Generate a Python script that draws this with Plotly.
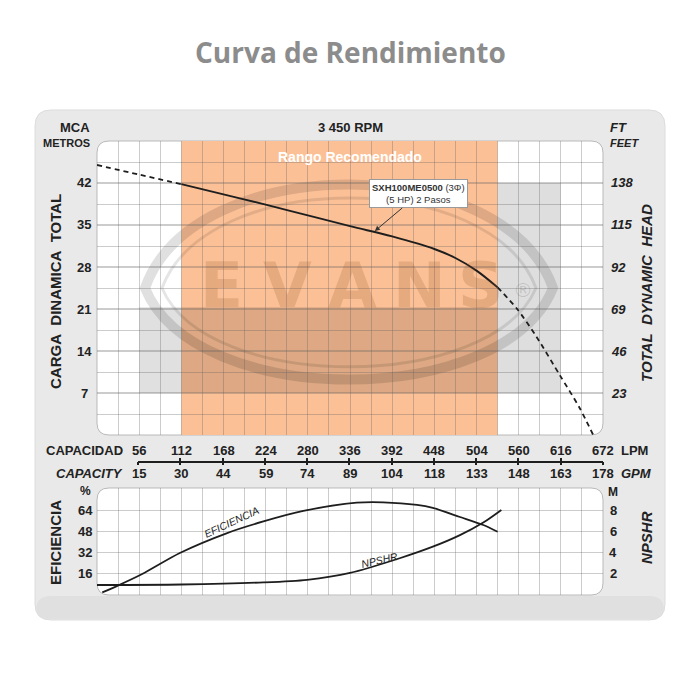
import plotly.graph_objects as go

# ---------------- data ----------------
lpm_ticks = [56, 112, 168, 224, 280, 336, 392, 448, 504, 560, 616, 672]
gpm_ticks = [15, 30, 44, 59, 74, 89, 104, 118, 133, 148, 163, 178]
head_m_ticks = [42, 35, 28, 21, 14, 7]
head_ft_ticks = [138, 115, 92, 69, 46, 23]
eff_ticks = [64, 48, 32, 16]
npshr_ticks = [8, 6, 4, 2]

# pump curve (LPM, metres)
q_low = [0, 56, 112]
h_low = [45.0, 43.4, 41.8]
q_main = [112, 168, 224, 280, 336, 392, 448, 476, 504, 532]
h_main = [41.8, 40.1, 38.4, 36.6, 34.8, 33.1, 31.0, 29.5, 27.4, 24.6]
q_high = [532, 558, 584, 615, 641, 659]
h_high = [24.6, 21.0, 16.3, 9.9, 4.5, 0.0]

# efficiency (%) and NPSHR (m)
q_eff = [7, 27, 60, 110, 172, 221, 274, 345, 380, 425, 446, 482, 513, 532]
eff = [2, 7, 16, 32, 47, 56, 64, 70.3, 70.6, 68.6, 66.3, 59.4, 53.3, 48.2]
q_npshr = [0, 112, 221, 279, 336, 402, 446, 482, 513, 537]
npshr = [0.95, 1.0, 1.2, 1.45, 2.1, 3.5, 4.6, 5.7, 6.9, 8.1]

recommended = [112, 532]
model_point = [369, 34.0]

FONT = "Liberation Sans, Arial, sans-serif"
DARK = "#1e1e1e"
GRID = "rgba(95,95,95,0.32)"


def px(x):
    return x / 700.0


def py(y):
    return 1 - y / 700.0


def rrect(x0, y0, x1, y1, r):
    pts = [
        ("M", [(x0 + r, y0)]), ("L", [(x1 - r, y0)]), ("Q", [(x1, y0), (x1, y0 + r)]),
        ("L", [(x1, y1 - r)]), ("Q", [(x1, y1), (x1 - r, y1)]), ("L", [(x0 + r, y1)]),
        ("Q", [(x0, y1), (x0, y1 - r)]), ("L", [(x0, y0 + r)]), ("Q", [(x0, y0), (x0 + r, y0)]),
    ]
    s = ""
    for cmd, pl in pts:
        s += cmd + " " + " ".join(f"{px(a):.5f},{py(b):.5f}" for a, b in pl) + " "
    return s + "Z"


def lens(xl, xr, yc, ytop, ybot):
    a = xl + (xr - xl) * 0.12
    b = xr - (xr - xl) * 0.12
    return (f"M {px(xl):.5f},{py(yc):.5f} C {px(a):.5f},{py(ytop):.5f} {px(b):.5f},{py(ytop):.5f} "
            f"{px(xr):.5f},{py(yc):.5f} C {px(b):.5f},{py(ybot):.5f} {px(a):.5f},{py(ybot):.5f} "
            f"{px(xl):.5f},{py(yc):.5f} Z")


fig = go.Figure()

# ---------------- traces ----------------
fig.add_trace(go.Scatter(x=q_low, y=h_low, mode="lines", xaxis="x", yaxis="y",
                         line=dict(color=DARK, width=1.8, dash="5px,4px", shape="spline"),
                         hoverinfo="skip", showlegend=False))
fig.add_trace(go.Scatter(x=q_main, y=h_main, mode="lines", xaxis="x", yaxis="y",
                         line=dict(color=DARK, width=1.9, shape="spline", smoothing=1.0),
                         hoverinfo="skip", showlegend=False))
fig.add_trace(go.Scatter(x=q_high, y=h_high, mode="lines", xaxis="x", yaxis="y",
                         line=dict(color=DARK, width=1.8, dash="5px,4px", shape="spline", smoothing=0.8),
                         hoverinfo="skip", showlegend=False))
fig.add_trace(go.Scatter(x=q_eff, y=eff, mode="lines", xaxis="x2", yaxis="y2",
                         line=dict(color=DARK, width=1.8, shape="spline", smoothing=0.8),
                         hoverinfo="skip", showlegend=False))
fig.add_trace(go.Scatter(x=q_npshr, y=npshr, mode="lines", xaxis="x2", yaxis="y3",
                         line=dict(color=DARK, width=1.8, shape="spline", smoothing=0.8),
                         hoverinfo="skip", showlegend=False))
# helpers so the capacity scale axes are drawn
for xa in ("x3", "x4"):
    fig.add_trace(go.Scatter(x=lpm_ticks, y=[0.5] * len(lpm_ticks), mode="markers",
                             xaxis=xa, yaxis="y4", marker=dict(opacity=0),
                             hoverinfo="skip", showlegend=False))

# ---------------- axes ----------------
xdom = [px(97), px(603)]
common_x = dict(domain=xdom, range=[0, 672], showticklabels=False, ticks="",
                zeroline=False, showline=False, showgrid=True, gridcolor=GRID, gridwidth=1.3,
                tick0=0, dtick=56,
                minor=dict(dtick=28, tick0=0, showgrid=True, gridcolor=GRID, gridwidth=1))
fig.update_layout(
    xaxis=dict(anchor="y", **common_x),
    yaxis=dict(domain=[py(435), py(141)], range=[0, 49], anchor="x", showticklabels=False,
               ticks="", zeroline=False, showgrid=True, gridcolor=GRID, gridwidth=1.6,
               tick0=0, dtick=7,
               minor=dict(dtick=3.5, tick0=0, showgrid=True, gridcolor=GRID, gridwidth=1)),
    xaxis2=dict(anchor="y2", **common_x),
    yaxis2=dict(domain=[py(595), py(488)], range=[0, 81.5], anchor="x2", showticklabels=False,
                ticks="", zeroline=False, showgrid=True, gridcolor=GRID, gridwidth=1.3,
                tickmode="array", tickvals=eff_ticks),
    yaxis3=dict(overlaying="y2", range=[0, 81.5 / 8], visible=False, showgrid=False),
    xaxis3=dict(domain=[px(138), px(603)], range=[56, 672], anchor="free", position=py(461.5),
                showline=True, linecolor=DARK, linewidth=1.5, ticks="outside", ticklen=3,
                tickwidth=1.5, tickcolor=DARK, tickmode="array", tickvals=lpm_ticks,
                showticklabels=False, showgrid=False, zeroline=False),
    xaxis4=dict(overlaying="x3", range=[56, 672], anchor="free", position=py(461.5),
                showline=False, ticks="inside", ticklen=4, tickwidth=1.5, tickcolor=DARK,
                tickmode="array", tickvals=lpm_ticks, showticklabels=False,
                showgrid=False, zeroline=False),
    yaxis4=dict(domain=[py(470), py(455)], range=[0, 1], anchor="x3", visible=False,
                showgrid=False),
)

# ---------------- shapes ----------------
shapes = []
# panel
shapes.append(dict(type="path", path=rrect(35, 110, 665, 620, 16), xref="paper", yref="paper",
                   fillcolor="#e9e9e9", line=dict(color="#dcdcdc", width=1), layer="below"))
shapes.append(dict(type="path", path=rrect(36, 596, 664, 619, 14), xref="paper", yref="paper",
                   fillcolor="rgba(0,0,0,0.035)", line=dict(width=0), layer="below"))
# plot areas
for (a, b, c, d) in [(97, 141, 603, 435), (97, 488, 603, 595)]:
    shapes.append(dict(type="path", path=rrect(a, b, c, d, 12), xref="paper", yref="paper",
                       fillcolor="white", line=dict(color="#b9b9b9", width=1), layer="below"))
# recommended range
shapes.append(dict(type="rect", xref="x", yref="y domain", x0=recommended[0], x1=recommended[1],
                   y0=0, y1=1, fillcolor="#fcc096", line=dict(width=0), layer="below"))
# watermark blocks
shapes.append(dict(type="rect", xref="x", yref="y", x0=56, x1=532, y0=7, y1=21.3,
                   fillcolor="rgba(0,0,0,0.12)", line=dict(width=0), layer="below"))
shapes.append(dict(type="rect", xref="x", yref="y", x0=532, x1=616, y0=7, y1=42,
                   fillcolor="rgba(0,0,0,0.13)", line=dict(width=0), layer="below"))
# watermark rings
shapes.append(dict(type="path", path=lens(145, 553, 288, 150, 410), xref="paper", yref="paper",
                   line=dict(color="rgba(0,0,0,0.12)", width=10), layer="below"))
shapes.append(dict(type="path", path=lens(162, 536, 288, 168, 393), xref="paper", yref="paper",
                   line=dict(color="rgba(0,0,0,0.10)", width=3), layer="below"))
fig.update_layout(shapes=shapes)

# ---------------- annotations ----------------
ann = []


def txt(x, y, text, size=13, xanchor="center", yanchor="middle", xref="paper", yref="paper",
        color="#222", angle=0, family=FONT):
    ann.append(dict(x=x, y=y, xref=xref, yref=yref, text=text, showarrow=False,
                    xanchor=xanchor, yanchor=yanchor, textangle=angle,
                    font=dict(family=family, size=size, color=color)))


# watermark letters
for ch, cx in zip("EVANS", [222, 287, 352, 419, 480]):
    txt(px(cx), py(285), f"<b>{ch}</b>", size=63, color="rgba(140,75,30,0.19)",
        family="DejaVu Sans, sans-serif")
txt(px(523), py(290), "®", size=20, color="rgba(0,0,0,0.13)", family="DejaVu Sans, sans-serif")

# title
txt(0.5, py(52), "<b>Curva de Rendimiento</b>", size=28, color="#8c8c8c",
    family="Open Sans, sans-serif")
# headers
txt(px(92), py(128), "<b>MCA</b>", size=13, xanchor="right")
txt(px(92), py(143), "<b>METROS</b>", size=11, xanchor="right")
txt(0.5, py(128), "<b>3 450 RPM</b>", size=13)
txt(px(608), py(128), "<b><i>FT</i></b>", size=13, xanchor="left")
txt(px(608), py(143), "<b><i>FEET</i></b>", size=11, xanchor="left")
txt(0.5, py(157), "<b>Rango Recomendado</b>", size=14, color="white")

# head tick labels
for v, f in zip(head_m_ticks, head_ft_ticks):
    txt(px(84), v, f"<b>{v}</b>", yref="y")
    txt(px(609), v, f"<b><i>{f}</i></b>", yref="y", xanchor="left")
# axis titles
sp = "\u00a0\u00a0"
txt(px(55), py(292), f"<b>CARGA{sp}DINAMICA{sp}TOTAL</b>", size=15, angle=-90)
txt(px(646), py(293), f"<b><i>TOTAL{sp}DYNAMIC{sp}HEAD</i></b>", size=15, angle=-90)

# capacity scale labels
txt(px(125), py(450), "<b>CAPACIDAD</b>", size=13, xanchor="right")
txt(px(125), py(473), "<b><i>CAPACITY</i></b>", size=13, xanchor="right")
for q, g in zip(lpm_ticks, gpm_ticks):
    txt(q, py(450), f"<b>{q}</b>", xref="x")
    txt(q, py(473), f"<b>{g}</b>", xref="x")
txt(px(619), py(450), "<b>LPM</b>", size=13, xanchor="left")
txt(px(619), py(473), "<b><i>GPM</i></b>", size=13, xanchor="left")

# lower chart labels
txt(px(85), py(491), "<b>%</b>", size=12)
txt(px(613), py(492), "<b>M</b>", size=12)
for v in eff_ticks:
    txt(px(85), v, f"<b>{v}</b>", yref="y2")
for v in npshr_ticks:
    txt(px(613), v, f"<b>{v}</b>", yref="y3")
txt(px(55), py(543), "<b>EFICIENCIA</b>", size=15, angle=-90)
txt(px(646), py(538), "<b><i>NPSHR</i></b>", size=15, angle=-90)
txt(px(231), py(522), "<i>EFICIENCIA</i>", size=10.5, angle=-25)
txt(px(379), py(560), "<i>NPSHR</i>", size=10.5, angle=-13)

# model callout
ann.append(dict(x=model_point[0], y=model_point[1], xref="x", yref="y",
                text="<b>SXH100ME0500</b> (3Φ)<br>(5 HP) 2 Pasos", showarrow=True,
                ax=44, ay=-37, arrowhead=2, arrowsize=1, arrowwidth=1, arrowcolor="#333",
                bgcolor="white", bordercolor="#9a9a9a", borderwidth=1, borderpad=2,
                font=dict(family=FONT, size=9.5, color="#333")))

fig.update_layout(annotations=ann)

fig.update_layout(width=700, height=700, margin=dict(l=0, r=0, t=0, b=0),
                  paper_bgcolor="white", plot_bgcolor="rgba(0,0,0,0)", showlegend=False)

fig.write_html("out.html")
